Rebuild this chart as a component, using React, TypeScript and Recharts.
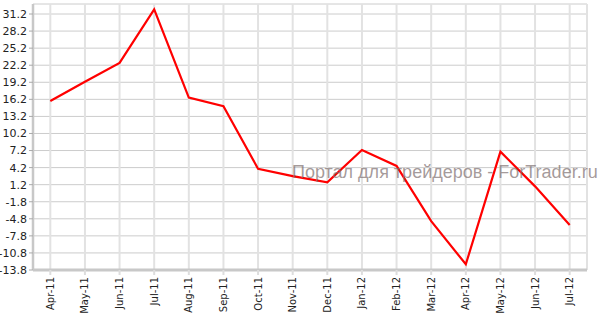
import { LineChart, Line, XAxis, YAxis, CartesianGrid } from 'recharts';

const months = [
  'Apr-11', 'May-11', 'Jun-11', 'Jul-11', 'Aug-11', 'Sep-11', 'Oct-11', 'Nov-11',
  'Dec-11', 'Jan-12', 'Feb-12', 'Mar-12', 'Apr-12', 'May-12', 'Jun-12', 'Jul-12',
];

const values = [
  15.9, 19.3, 22.6, 32.0, 16.5, 15.0, 4.0, 2.7,
  1.6, 7.3, 4.5, -5.2, -12.8, 7.0, 0.9, -5.9,
];

const yTicks = [31.2, 28.2, 25.2, 22.2, 19.2, 16.2, 13.2, 10.2, 7.2, 4.2, 1.2, -1.8, -4.8, -7.8, -10.8, -13.8];

const watermark = 'Портал для трейдеров - ForTrader.ru';

const data = months.map((m, i) => ({ month: m, value: values[i] }));

const font = 'DejaVu Sans, Verdana, sans-serif';

// rotated month labels, reading bottom to top
const MonthTick = ({ x, y, payload }: any) => (
  <text
    x={x}
    y={y}
    transform={`rotate(-90, ${x}, ${y})`}
    textAnchor="end"
    dy="0.35em"
    fontSize={10}
    fontFamily={font}
    fill="#222"
  >
    {payload.value}
  </text>
);

export default function App() {
  return (
    <div style={{ position: 'absolute', left: 0, top: 0, width: 607, height: 324, background: '#fff' }}>
      <LineChart width={607} height={324} data={data} margin={{ top: 4, right: 20, left: 0, bottom: 0 }}>
        <CartesianGrid vertical={false} stroke="#cccccc" strokeWidth={1} />
        <CartesianGrid horizontal={false} stroke="#e2e2e2" strokeWidth={2} />
        <XAxis
          dataKey="month"
          scale="band"
          interval={0}
          height={54}
          axisLine={{ stroke: '#c8c8c8', strokeWidth: 3 }}
          tickLine={{ stroke: '#dddddd', strokeWidth: 2 }}
          tickSize={5}
          tickMargin={2}
          tick={<MonthTick />}
        />
        <YAxis
          width={33}
          domain={[-13.8, 32.96]}
          ticks={yTicks}
          interval={0}
          tickFormatter={(v: number) => v.toFixed(1)}
          axisLine={{ stroke: '#c8c8c8', strokeWidth: 2.5 }}
          tickLine={{ stroke: '#aaaaaa' }}
          tickSize={4}
          tick={{ fontSize: 11, fontFamily: font, fill: '#222' }}
        />
        <Line
          type="linear"
          dataKey="value"
          stroke="#ff0000"
          strokeWidth={2.2}
          dot={false}
          isAnimationActive={false}
        />
      </LineChart>
      <div
        style={{
          position: 'absolute',
          left: 292,
          top: 163,
          fontFamily: 'Liberation Sans, Arial, sans-serif',
          fontSize: 18,
          lineHeight: '18px',
          whiteSpace: 'nowrap',
          color: 'rgba(125, 110, 110, 0.7)',
        }}
      >
        {watermark}
      </div>
    </div>
  );
}
